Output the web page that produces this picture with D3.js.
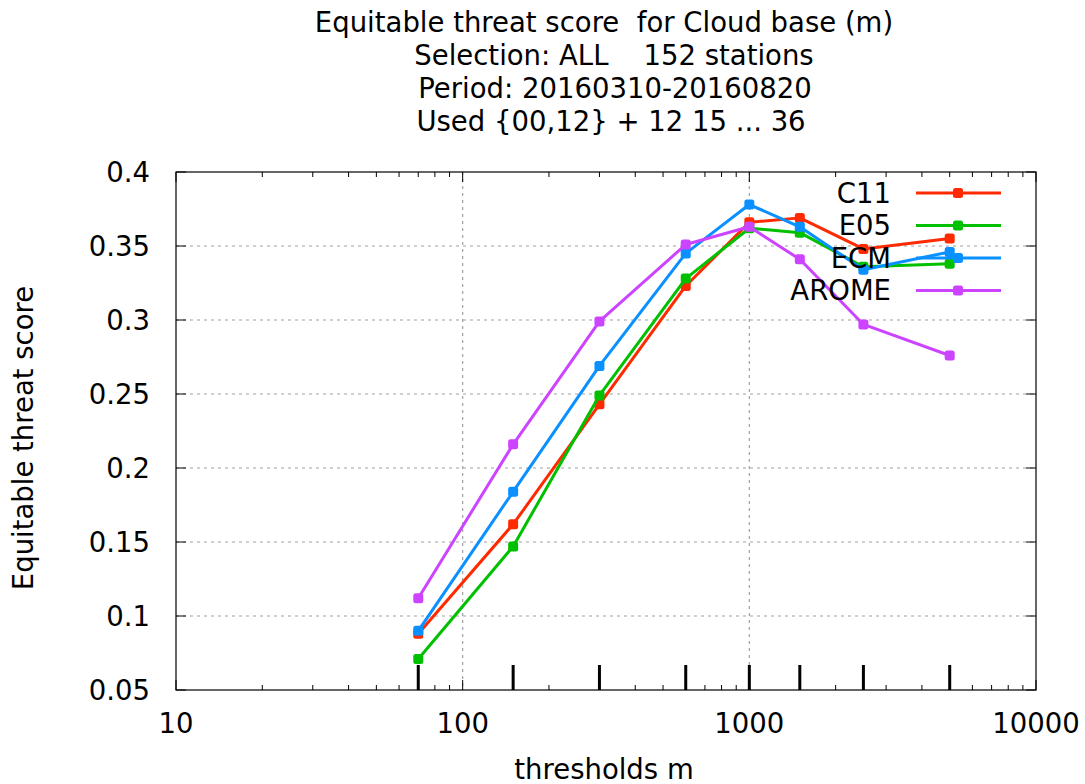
<!DOCTYPE html>
<html>
<head>
<meta charset="utf-8">
<script src="https://cdn.jsdelivr.net/npm/d3@7"></script>
<style>
  html, body { margin: 0; padding: 0; background: #ffffff; }
  svg { display: block; }
  text { font-family: "DejaVu Sans", sans-serif; fill: #000; white-space: pre; }
</style>
</head>
<body>
<svg id="chart" width="1085" height="784"></svg>
<script>
// ---- data ----
const thresholds = [70, 150, 300, 600, 1000, 1500, 2500, 5000];
const seriesNames = ["C11", "E05", "ECM", "AROME"];
const seriesColors = ["#ff2a00", "#00c000", "#0a90ff", "#cc44ff"];
const C11   = [0.088, 0.162, 0.243, 0.323, 0.366, 0.369, 0.348, 0.355];
const E05   = [0.071, 0.147, 0.249, 0.328, 0.362, 0.359, 0.336, 0.338];
const ECM   = [0.090, 0.184, 0.269, 0.345, 0.378, 0.363, 0.334, 0.346];
const AROME = [0.112, 0.216, 0.299, 0.351, 0.363, 0.341, 0.297, 0.276];
const seriesValues = [C11, E05, ECM, AROME];
const yTicks = [0.05, 0.1, 0.15, 0.2, 0.25, 0.3, 0.35, 0.4];
const yTickLabels = ["0.05", "0.1", "0.15", "0.2", "0.25", "0.3", "0.35", "0.4"];
const xTicks = [10, 100, 1000, 10000];
const xTickLabels = ["10", "100", "1000", "10000"];
const titleLines = [
  "Equitable threat score  for Cloud base (m)",
  "Selection: ALL    152 stations",
  "Period: 20160310-20160820",
  "Used {00,12} + 12 15 ... 36"
];
const xLabel = "thresholds m";
const yLabel = "Equitable threat score";

// ---- layout ----
const L = 176, R = 1036, T = 172, B = 690;
const FS = 27.5;
const svg = d3.select("#chart");

const x = d3.scaleLog().domain([10, 10000]).range([L, R]);
const y = d3.scaleLinear().domain([0.05, 0.4]).range([B, T]);

// grid
const grid = svg.append("g").attr("stroke", "#a0a0a0").attr("stroke-width", 1.2)
  .attr("stroke-dasharray", "3,4");
yTicks.filter(v => v > 0.05 && v < 0.4).forEach(v => {
  grid.append("line").attr("x1", L).attr("x2", R).attr("y1", y(v)).attr("y2", y(v));
});
xTicks.filter(v => v > 10 && v < 10000).forEach(v => {
  grid.append("line").attr("x1", x(v)).attr("x2", x(v)).attr("y1", T).attr("y2", B);
});

// minor log ticks (bottom and top, inward)
const minor = [];
for (let d = 10; d < 10000; d *= 10) for (let k = 2; k <= 9; k++) minor.push(d * k);
const tk = svg.append("g").attr("stroke", "#000").attr("stroke-width", 1);
minor.forEach(v => {
  tk.append("line").attr("x1", x(v)).attr("x2", x(v)).attr("y1", B).attr("y2", B - 5);
  tk.append("line").attr("x1", x(v)).attr("x2", x(v)).attr("y1", T).attr("y2", T + 5);
});
xTicks.forEach(v => {
  tk.append("line").attr("x1", x(v)).attr("x2", x(v)).attr("y1", B).attr("y2", B - 10);
  tk.append("line").attr("x1", x(v)).attr("x2", x(v)).attr("y1", T).attr("y2", T + 10);
});
yTicks.forEach(v => {
  tk.append("line").attr("x1", L).attr("x2", L + 10).attr("y1", y(v)).attr("y2", y(v));
  tk.append("line").attr("x1", R).attr("x2", R - 10).attr("y1", y(v)).attr("y2", y(v));
});
// threshold ticks
thresholds.forEach(v => {
  svg.append("line").attr("x1", x(v)).attr("x2", x(v)).attr("y1", B).attr("y2", B - 25)
    .attr("stroke", "#000").attr("stroke-width", 3);
});

// border
svg.append("rect").attr("x", L).attr("y", T).attr("width", R - L).attr("height", B - T)
  .attr("fill", "none").attr("stroke", "#000").attr("stroke-width", 1.2);

// tick labels
yTicks.forEach((v, i) => {
  svg.append("text").attr("x", 150).attr("y", y(v)).attr("dy", "0.36em")
    .attr("text-anchor", "end").attr("font-size", FS).text(yTickLabels[i]);
});
xTicks.forEach((v, i) => {
  svg.append("text").attr("x", x(v)).attr("y", 733)
    .attr("text-anchor", "middle").attr("font-size", FS).text(xTickLabels[i]);
});

// axis labels
svg.append("text").attr("x", 604).attr("y", 779).attr("text-anchor", "middle")
  .attr("font-size", FS).text(xLabel);
svg.append("text").attr("transform", "translate(33,438) rotate(-90)")
  .attr("text-anchor", "middle").attr("font-size", FS).text(yLabel);

// title
const titleX = [604, 614, 615, 611];
titleLines.forEach((t, i) => {
  svg.append("text").attr("x", titleX[i]).attr("y", 32 + i * 33)
    .attr("text-anchor", "middle").attr("font-size", FS).text(t);
});

// markers: small filled squares with softened corners
function marker(g, cx, cy, color) {
  g.append("rect").attr("x", cx - 5).attr("y", cy - 5).attr("width", 10).attr("height", 10)
    .attr("rx", 2.5).attr("fill", color);
}

// series
const line = d3.line().x((d, i) => x(thresholds[i])).y(d => y(d));
seriesValues.forEach((vals, si) => {
  const g = svg.append("g");
  g.append("path").datum(vals).attr("d", line).attr("fill", "none")
    .attr("stroke", seriesColors[si]).attr("stroke-width", 3).attr("stroke-linejoin", "round");
  vals.forEach((v, i) => marker(g, x(thresholds[i]), y(v), seriesColors[si]));
});

// legend
seriesNames.forEach((n, i) => {
  const cy = 193 + i * 32.5;
  svg.append("text").attr("x", 891).attr("y", cy).attr("dy", "0.36em")
    .attr("text-anchor", "end").attr("font-size", FS).text(n);
  const g = svg.append("g");
  g.append("line").attr("x1", 916).attr("x2", 1001).attr("y1", cy).attr("y2", cy)
    .attr("stroke", seriesColors[i]).attr("stroke-width", 3);
  marker(g, 958, cy, seriesColors[i]);
});
</script>
</body>
</html>
